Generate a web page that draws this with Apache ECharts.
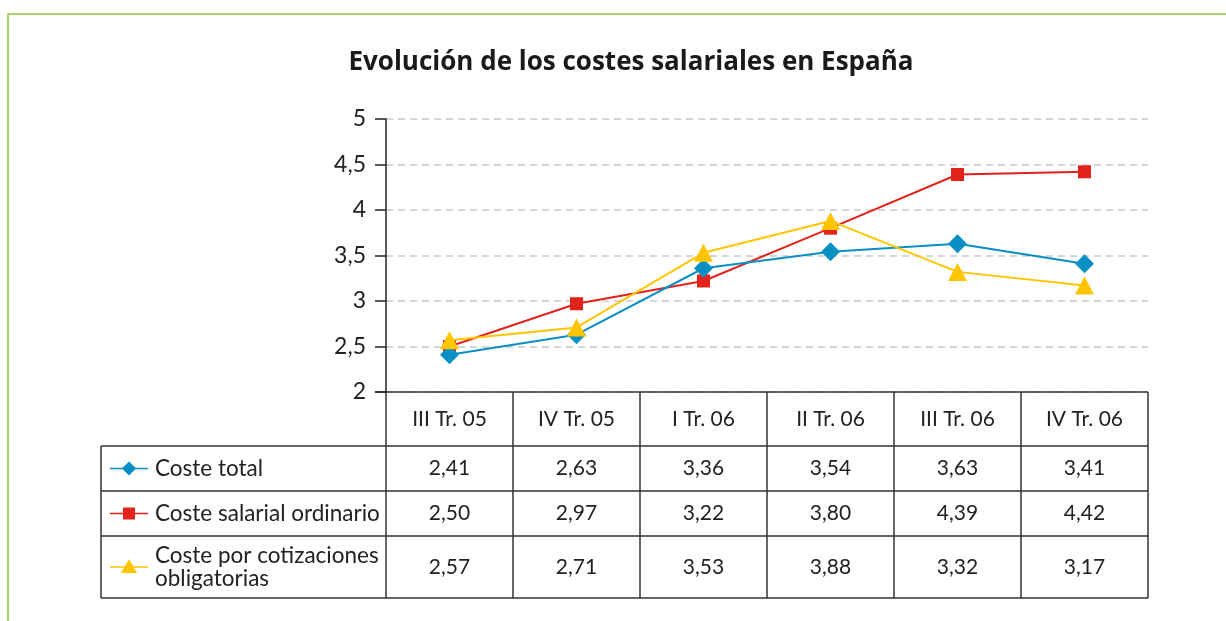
<!DOCTYPE html>
<html>
<head>
<meta charset="utf-8">
<script src="https://cdn.jsdelivr.net/npm/echarts@6/dist/echarts.min.js"></script>
<style>
  html, body { margin: 0; padding: 0; background: #ffffff; }
  #main { width: 1226px; height: 621px; }
</style>
</head>
<body>
<div id="main"></div>
<script>
  const periodos = ['III Tr. 05', 'IV Tr. 05', 'I Tr. 06', 'II Tr. 06', 'III Tr. 06', 'IV Tr. 06'];
  const costeTotal = [2.41, 2.63, 3.36, 3.54, 3.63, 3.41];
  const costeSalarial = [2.50, 2.97, 3.22, 3.80, 4.39, 4.42];
  const costeCotizaciones = [2.57, 2.71, 3.53, 3.88, 3.32, 3.17];
  const nombres = ['Coste total', 'Coste salarial ordinario', 'Coste por cotizaciones\nobligatorias'];

  const azul = '#0a8fc4';
  const rojo = '#e3221b';
  const amarillo = '#ffc500';
  const verde = '#8cc63e';
  const font = 'Lato';

  const fmt = v => v.toFixed(2).replace('.', ',');

  const myChart = echarts.init(document.getElementById('main'));

  const gridLeft = 386, gridRight = 1148, gridTop = 119, gridBottom = 392;

  const option = {
    animation: false,
    textStyle: { fontFamily: font },
    title: {
      text: 'Evolución de los costes salariales en España',
      left: 626,
      textAlign: 'center',
      top: 45,
      textStyle: { fontFamily: 'Open Sans', fontWeight: 'bold', fontSize: 26, color: '#1a1a1a' }
    },
    grid: {
      left: gridLeft,
      right: 1226 - gridRight,
      top: gridTop,
      bottom: 621 - gridBottom
    },
    xAxis: {
      type: 'category',
      data: periodos,
      boundaryGap: true,
      axisLine: { show: false },
      axisTick: { show: false },
      axisLabel: { show: false },
      splitLine: { show: false }
    },
    yAxis: {
      type: 'value',
      min: 2,
      max: 5,
      interval: 0.5,
      axisLine: { show: true, lineStyle: { color: '#222', width: 1.5 } },
      axisTick: { show: true, length: 11, lineStyle: { color: '#222', width: 1.5 } },
      axisLabel: {
        margin: 20,
        fontSize: 23,
        color: '#222',
        fontFamily: font,
        formatter: v => String(v).replace('.', ',')
      },
      splitLine: { show: true, lineStyle: { color: '#c8c8c8', type: [7, 5], width: 1.5 } }
    },
    series: [
      {
        name: nombres[0], type: 'line', data: costeTotal,
        symbol: 'diamond', symbolSize: 19,
        lineStyle: { color: azul, width: 2 }, itemStyle: { color: azul }, z: 3
      },
      {
        name: nombres[1], type: 'line', data: costeSalarial,
        symbol: 'rect', symbolSize: 13,
        lineStyle: { color: rojo, width: 2 }, itemStyle: { color: rojo }, z: 2
      },
      {
        name: nombres[2], type: 'line', data: costeCotizaciones,
        symbol: 'triangle', symbolSize: [19, 18],
        lineStyle: { color: amarillo, width: 2 }, itemStyle: { color: amarillo }, z: 4
      }
    ]
  };
  myChart.setOption(option);

  // tabla de datos bajo el gráfico
  const bw = myChart.convertToPixel({ xAxisIndex: 0 }, periodos[1]) - myChart.convertToPixel({ xAxisIndex: 0 }, periodos[0]);
  const centros = periodos.map(p => myChart.convertToPixel({ xAxisIndex: 0 }, p));
  const tableLeft = 101;
  const rowY = [392, 446, 491, 536, 598];
  const lineCol = '#333';
  const elems = [];

  const hline = (x1, x2, y) => elems.push({ type: 'line', shape: { x1: x1, y1: y, x2: x2, y2: y }, style: { stroke: lineCol, lineWidth: 1.5 } });
  const vline = (x, y1, y2) => elems.push({ type: 'line', shape: { x1: x, y1: y1, x2: x, y2: y2 }, style: { stroke: lineCol, lineWidth: 1.5 } });

  hline(gridLeft - 11, gridRight, rowY[0]);
  for (let i = 1; i < rowY.length; i++) hline(tableLeft, gridRight, rowY[i]);
  vline(tableLeft, rowY[1], rowY[4]);
  for (let i = 0; i <= periodos.length; i++) vline(centros[0] - bw / 2 + i * bw, rowY[0], rowY[4]);

  periodos.forEach((p, i) => {
    elems.push({ type: 'text', x: centros[i], y: (rowY[0] + rowY[1]) / 2,
      style: { text: p, fontSize: 21, fontFamily: font, fill: '#222', align: 'center', verticalAlign: 'middle' } });
  });

  const filas = [costeTotal, costeSalarial, costeCotizaciones];
  const colores = [azul, rojo, amarillo];
  filas.forEach((serie, r) => {
    const cy = (rowY[r + 1] + rowY[r + 2]) / 2;
    serie.forEach((v, i) => {
      elems.push({ type: 'text', x: centros[i], y: cy,
        style: { text: fmt(v), fontSize: 21, fontFamily: font, fill: '#222', align: 'center', verticalAlign: 'middle' } });
    });
    elems.push({ type: 'line', shape: { x1: 110, y1: cy, x2: 148, y2: cy }, style: { stroke: colores[r], lineWidth: 1.5 } });
    elems.push({ type: 'text', x: 155, y: cy,
      style: { text: nombres[r], fontSize: 22.5, fontFamily: font, fill: '#222', align: 'left', verticalAlign: 'middle', lineHeight: 23 } });
  });
  // marcadores de leyenda
  const cy0 = (rowY[1] + rowY[2]) / 2, cy1 = (rowY[2] + rowY[3]) / 2, cy2 = (rowY[3] + rowY[4]) / 2;
  elems.push({ type: 'polygon', shape: { points: [[129, cy0 - 7], [136, cy0], [129, cy0 + 7], [122, cy0]] }, style: { fill: azul } });
  elems.push({ type: 'rect', shape: { x: 123, y: cy1 - 6, width: 12, height: 12 }, style: { fill: rojo } });
  elems.push({ type: 'polygon', shape: { points: [[129, cy2 - 8], [137, cy2 + 6], [121, cy2 + 6]] }, style: { fill: amarillo } });

  // marco verde
  elems.push({ type: 'polyline', shape: { points: [[1226, 14], [8, 14], [8, 621]] }, style: { stroke: verde, lineWidth: 1.5, fill: null } });

  myChart.setOption({ graphic: { elements: elems } });
</script>
</body>
</html>
